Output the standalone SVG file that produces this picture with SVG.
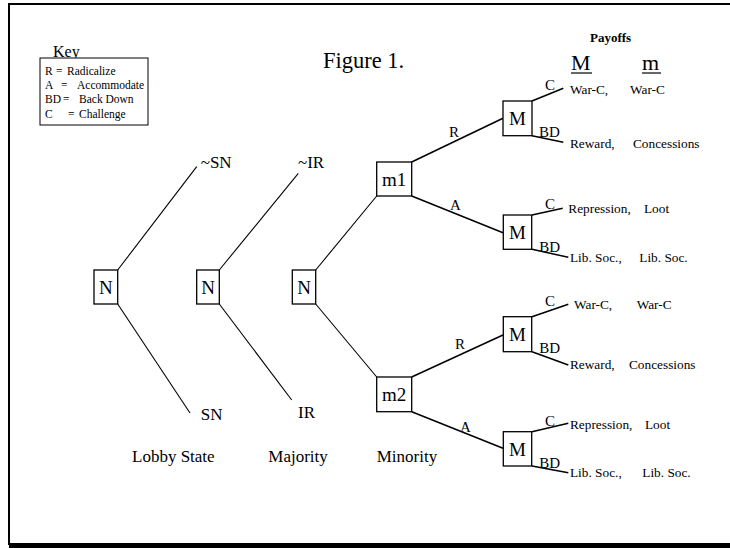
<svg xmlns="http://www.w3.org/2000/svg" width="730" height="548" viewBox="0 0 730 548">
<style>
text{font-family:"Liberation Serif","Times New Roman",serif;fill:#000}
.box{fill:#fff;stroke:#000;stroke-width:1.3}
.thin{stroke:#000;stroke-width:1.1;fill:none}
.edge{stroke:#000;stroke-width:1.5;fill:none}
.node{font-size:19px;text-anchor:middle}
.lab{font-size:17px}
.br{font-size:17px}
.act{font-size:15px}
.pay{font-size:13.3px}
.key{font-size:11.5px}
</style>
<rect x="0" y="0" width="730" height="548" fill="#fff"/>
<g id="frame">
<line x1="9" y1="4" x2="730" y2="4" stroke="#000" stroke-width="2"/>
<line x1="9" y1="3" x2="9" y2="545" stroke="#000" stroke-width="2"/>
<rect x="9" y="543" width="721" height="5" fill="#000"/>
</g>
<g id="key">
<text x="53" y="57" font-size="16">Key</text>
<rect x="40" y="58" width="108" height="67" fill="#fff" stroke="#000" stroke-width="1"/>
<text class="key" x="45" y="75">R</text><text class="key" x="56" y="75">=</text><text class="key" x="67" y="75">Radicalize</text>
<text class="key" x="45" y="89">A</text><text class="key" x="61" y="89">=</text><text class="key" x="77" y="89">Accommodate</text>
<text class="key" x="45" y="103">BD</text><text class="key" x="63" y="103">=</text><text class="key" x="79" y="103">Back Down</text>
<text class="key" x="45" y="118">C</text><text class="key" x="68" y="118">=</text><text class="key" x="79" y="118">Challenge</text>
</g>
<g id="title">
<text x="323" y="68" font-size="22.5">Figure 1.</text>
<text x="590" y="42" font-size="13" font-weight="bold">Payoffs</text>
<text x="571" y="70" font-size="22">M</text>
<line x1="571" y1="73" x2="592" y2="73" stroke="#000" stroke-width="1.2"/>
<text x="642" y="70" font-size="22">m</text>
<line x1="642" y1="73" x2="661" y2="73" stroke="#000" stroke-width="1.2"/>
</g>
<g id="connectors">
<line class="thin" x1="117.7" y1="270" x2="196.7" y2="166.7"/>
<line class="thin" x1="117.7" y1="304" x2="190" y2="413"/>
<line class="thin" x1="219.3" y1="270" x2="298.3" y2="173.3"/>
<line class="thin" x1="219.3" y1="304" x2="291.7" y2="400"/>
<line class="thin" x1="315.7" y1="270" x2="376.7" y2="196"/>
<line class="thin" x1="315.7" y1="304" x2="376.7" y2="377"/>
<line class="edge" x1="411.7" y1="162" x2="503" y2="118.3"/>
<line class="edge" x1="411.7" y1="196" x2="503" y2="232.7"/>
<line class="edge" x1="411.7" y1="377" x2="503" y2="335"/>
<line class="edge" x1="411.7" y1="411.7" x2="503" y2="448.3"/>
<line class="edge" x1="532" y1="101" x2="563.3" y2="88.3"/>
<line class="edge" x1="532" y1="135.7" x2="563.3" y2="142.3"/>
<line class="edge" x1="532" y1="215" x2="562.7" y2="208.3"/>
<line class="edge" x1="532" y1="249.3" x2="568.3" y2="257.3"/>
<line class="edge" x1="532" y1="316.7" x2="568.3" y2="304.3"/>
<line class="edge" x1="532" y1="351.7" x2="568.3" y2="365"/>
<line class="edge" x1="532" y1="431.7" x2="568.3" y2="423.3"/>
<line class="edge" x1="532" y1="466" x2="568.3" y2="472.7"/>
</g>
<g id="branch-labels">
<text class="br" x="200.7" y="168">~SN</text>
<text class="br" x="200.7" y="420">SN</text>
<text class="br" x="298" y="168">~IR</text>
<text class="br" x="298" y="418">IR</text>
<text class="act" x="449" y="137">R</text>
<text class="act" x="450" y="210">A</text>
<text class="act" x="455" y="349">R</text>
<text class="act" x="460" y="431.7">A</text>
<text class="act" x="545" y="90">C</text>
<text class="act" x="539" y="137">BD</text>
<text class="act" x="545" y="209">C</text>
<text class="act" x="539.3" y="251.7">BD</text>
<text class="act" x="545" y="306">C</text>
<text class="act" x="539.3" y="352.7">BD</text>
<text class="act" x="545" y="426">C</text>
<text class="act" x="539.3" y="468.3">BD</text>
</g>
<g id="N1"><rect class="box" x="94" y="270" width="23.7" height="34"/><text class="node" x="105.8" y="294">N</text></g>
<g id="N2"><rect class="box" x="196.7" y="270" width="22.6" height="34"/><text class="node" x="208" y="294">N</text></g>
<g id="N3"><rect class="box" x="292.3" y="270" width="23.4" height="34"/><text class="node" x="304" y="294">N</text></g>
<g id="m1"><rect class="box" x="376.7" y="162" width="35" height="34"/><text class="node" x="394.2" y="186">m1</text></g>
<g id="m2"><rect class="box" x="376.7" y="377" width="35" height="34.7"/><text class="node" x="394.2" y="401">m2</text></g>
<g id="M1"><rect class="box" x="503" y="101" width="29" height="34.7"/><text class="node" x="517.5" y="125">M</text></g>
<g id="M2"><rect class="box" x="503.3" y="215" width="28.4" height="34.3"/><text class="node" x="517.5" y="239">M</text></g>
<g id="M3"><rect class="box" x="503.3" y="316.7" width="28.4" height="35"/><text class="node" x="517.5" y="341">M</text></g>
<g id="M4"><rect class="box" x="503.3" y="431.7" width="28.4" height="34.3"/><text class="node" x="517.5" y="456">M</text></g>
<g id="payoffs">
<text class="pay" x="570" y="94">War-C,</text><text class="pay" x="630" y="94">War-C</text>
<text class="pay" x="570" y="148">Reward,</text><text class="pay" x="633" y="148">Concessions</text>
<text class="pay" x="568.3" y="213.3">Repression,</text><text class="pay" x="644" y="213.3">Loot</text>
<text class="pay" x="570" y="261.7">Lib. Soc.,</text><text class="pay" x="639.3" y="261.7">Lib. Soc.</text>
<text class="pay" x="574" y="309.3">War-C,</text><text class="pay" x="636.7" y="309.3">War-C</text>
<text class="pay" x="570" y="369.3">Reward,</text><text class="pay" x="629" y="369.3">Concessions</text>
<text class="pay" x="570" y="429.3">Repression,</text><text class="pay" x="645" y="429.3">Loot</text>
<text class="pay" x="570" y="477.3">Lib. Soc.,</text><text class="pay" x="642.3" y="477.3">Lib. Soc.</text>
</g>
<g id="player-labels">
<text class="lab" x="132" y="461.7">Lobby State</text>
<text class="lab" x="268.3" y="461.7">Majority</text>
<text class="lab" x="376.7" y="461.7">Minority</text>
</g>
</svg>
